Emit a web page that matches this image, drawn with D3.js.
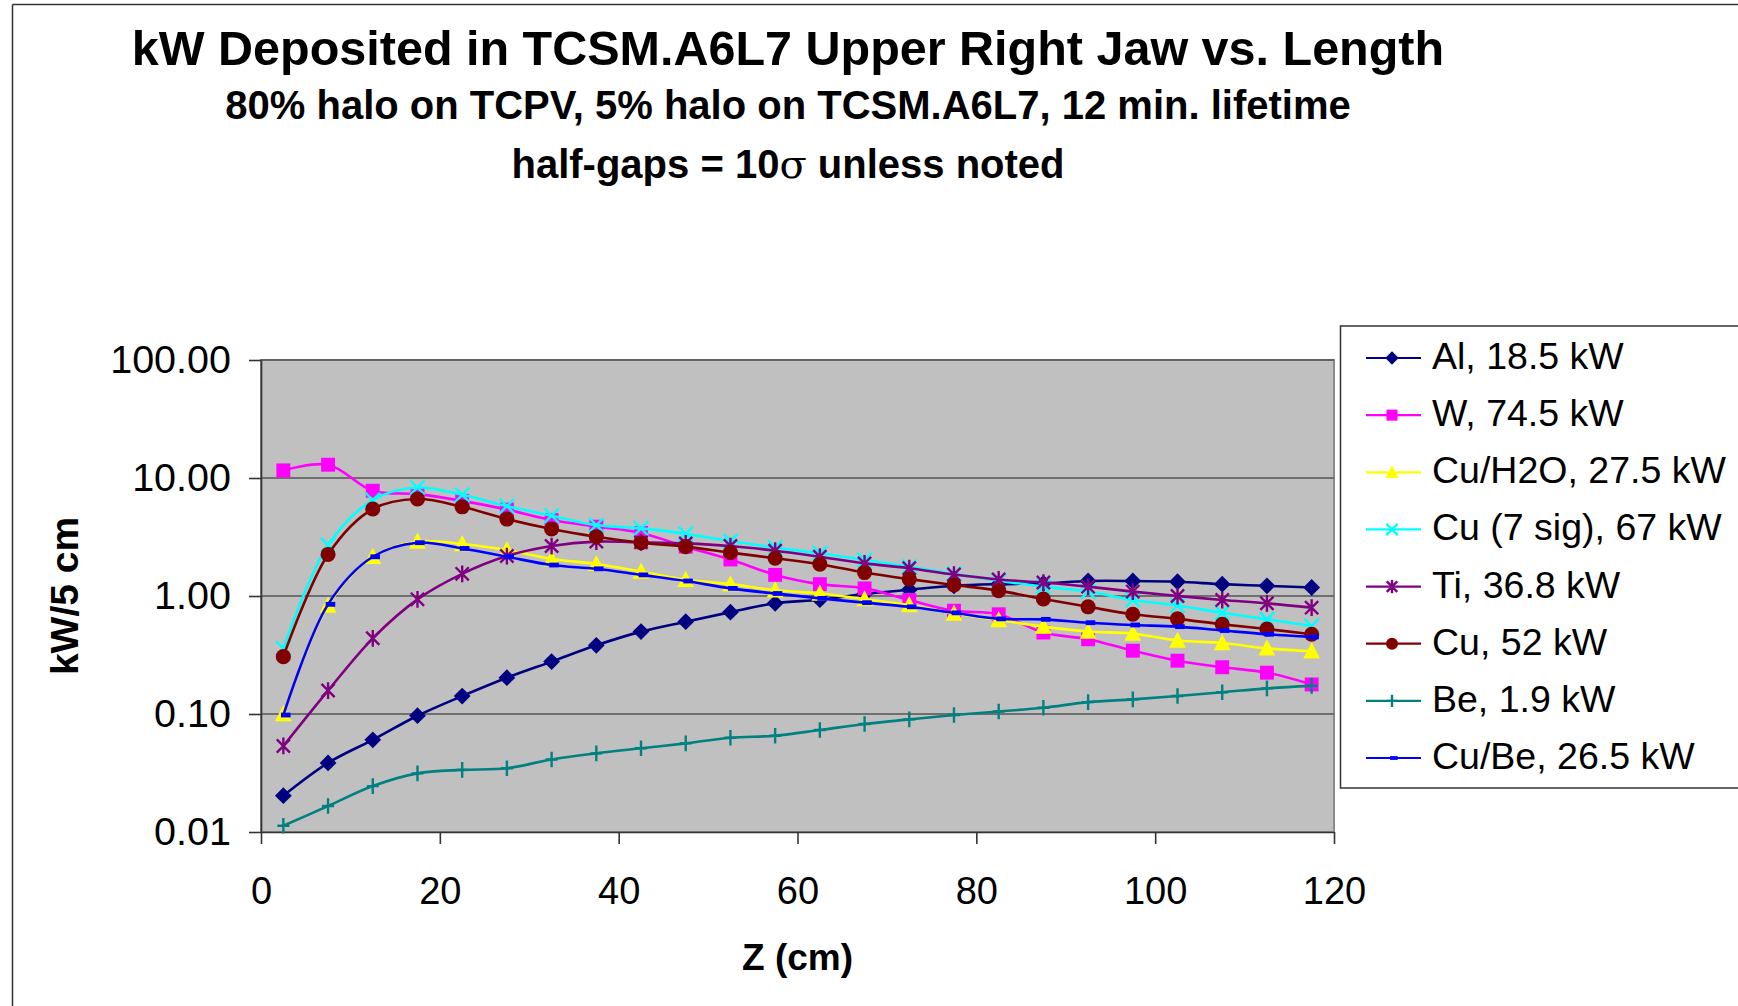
<!DOCTYPE html>
<html><head><meta charset="utf-8">
<script src="https://cdn.jsdelivr.net/npm/d3@7"></script>
<style>
body{margin:0;background:#fff}
svg{display:block}
text{font-family:"Liberation Sans",Arial,Helvetica,sans-serif}
</style>
</head><body>
<svg id="chart" width="1738" height="1006"></svg>
<script>
// ---------- data ----------
const zCm = [2.5,7.5,12.5,17.5,22.5,27.5,32.5,37.5,42.5,47.5,52.5,57.5,62.5,67.5,72.5,77.5,82.5,87.5,92.5,97.5,102.5,107.5,112.5,117.5];

const seriesNames = ["Al, 18.5 kW","W, 74.5 kW","Cu/H2O, 27.5 kW","Cu (7 sig), 67 kW","Ti, 36.8 kW","Cu, 52 kW","Be, 1.9 kW","Cu/Be, 26.5 kW"];
const seriesColors = ["#000080","#FF00FF","#FFFF00","#00FFFF","#800080","#800000","#008080","#0000FF"];
const seriesMarkers = ["diamond","square","triangle","x","asterisk","circle","plus","dash"];

const alValues    = [0.0203,0.0385,0.0604,0.0967,0.142,0.203,0.278,0.382,0.499,0.606,0.73,0.867,0.93,1.04,1.13,1.22,1.26,1.28,1.34,1.34,1.32,1.26,1.22,1.18];
const wValues     = [11.6,12.96,7.8,7.3,6.4,5.4,4.4,3.87,3.42,2.62,2.04,1.51,1.26,1.16,0.925,0.75,0.70,0.49,0.43,0.344,0.283,0.249,0.224,0.178];
const cuH2oValues = [0.100,0.83,2.15,2.89,2.76,2.45,2.06,1.87,1.61,1.37,1.26,1.12,1.05,0.94,0.84,0.71,0.626,0.55,0.50,0.48,0.42,0.40,0.36,0.34];
const cu7Values   = [0.36,2.70,6.5,8.3,7.2,5.78,4.79,3.99,3.74,3.36,2.92,2.57,2.30,2.02,1.77,1.54,1.35,1.20,1.09,0.925,0.83,0.72,0.634,0.557];
const tiValues    = [0.0536,0.158,0.438,0.937,1.54,2.18,2.65,2.89,2.85,2.79,2.65,2.42,2.15,1.89,1.72,1.52,1.38,1.30,1.20,1.09,1.00,0.925,0.867,0.797];
const cuValues    = [0.306,2.25,5.46,6.64,5.7,4.49,3.70,3.18,2.83,2.62,2.33,2.09,1.86,1.58,1.39,1.24,1.11,0.943,0.81,0.70,0.64,0.575,0.525,0.474];
const beValues    = [0.0113,0.0166,0.0245,0.0314,0.0336,0.0347,0.0412,0.0464,0.0512,0.0564,0.063,0.0655,0.0732,0.0823,0.090,0.098,0.105,0.113,0.126,0.133,0.142,0.153,0.165,0.173];
const cuBeValues  = [0.098,0.85,2.15,2.83,2.53,2.15,1.83,1.70,1.51,1.34,1.16,1.05,0.955,0.878,0.81,0.72,0.64,0.634,0.594,0.568,0.55,0.51,0.474,0.45];

const xTickValues = [0,20,40,60,80,100,120];
const yTickValues = [0.01,0.1,1,10,100];

const titleText = "kW Deposited in TCSM.A6L7 Upper Right Jaw vs. Length";
const subtitleText = "80% halo on TCPV, 5% halo on TCSM.A6L7, 12 min. lifetime";
const xTitle = "Z (cm)";
const yTitle = "kW/5 cm";

const allValues = [alValues,wValues,cuH2oValues,cu7Values,tiValues,cuValues,beValues,cuBeValues];

// ---------- layout ----------
const svg = d3.select("#chart");
const W = 1738, H = 1006;
const plot = {left:261, right:1334, top:360, bottom:832};

svg.append("rect").attr("width",W).attr("height",H).attr("fill","#fff");
// outer frame (top & left visible)
svg.append("line").attr("x1",12.5).attr("x2",W+5).attr("y1",4.5).attr("y2",4.5).attr("stroke","#333").attr("stroke-width",1.5);
svg.append("line").attr("x1",12.5).attr("x2",12.5).attr("y1",4.5).attr("y2",H+5).attr("stroke","#333").attr("stroke-width",1.5);

const x = d3.scaleLinear().domain([0,120]).range([plot.left,plot.right]);
const y = d3.scaleLog().domain([0.01,100]).range([plot.bottom,plot.top]);

// plot area
svg.append("rect").attr("x",plot.left).attr("y",plot.top)
  .attr("width",plot.right-plot.left).attr("height",plot.bottom-plot.top)
  .attr("fill","#C0C0C0").attr("stroke","#8a8a8a").attr("stroke-width",2);

// gridlines
svg.append("g").selectAll("line").data(yTickValues.filter(v=>v>0.01)).join("line")
  .attr("x1",plot.left).attr("x2",plot.right)
  .attr("y1",d=>y(d)).attr("y2",d=>y(d))
  .attr("stroke","#555").attr("stroke-width",1.6);

// axes
const yAxis = d3.axisLeft(y).tickValues(yTickValues).tickFormat(d3.format(".2f")).tickSizeInner(12).tickSizeOuter(0).tickPadding(18);
const gy = svg.append("g").attr("transform",`translate(${plot.left},0)`).call(yAxis);
gy.select(".domain").attr("stroke","#333").attr("stroke-width",1.6);
gy.selectAll(".tick line").attr("stroke","#333").attr("stroke-width",1.6);
gy.selectAll(".tick text").attr("font-size",39.5).attr("fill","#000").attr("font-family","'Liberation Sans',Arial,sans-serif");

const xAxis = d3.axisBottom(x).tickValues(xTickValues).tickFormat(d3.format("d")).tickSizeInner(12).tickSizeOuter(0).tickPadding(33);
const gx = svg.append("g").attr("transform",`translate(0,${plot.bottom})`).call(xAxis);
gx.select(".domain").attr("stroke","#333").attr("stroke-width",1.6);
gx.selectAll(".tick line").attr("stroke","#333").attr("stroke-width",1.6);
gx.selectAll(".tick text").attr("font-size",38).attr("fill","#000").attr("font-family","'Liberation Sans',Arial,sans-serif");

// titles
svg.append("text").attr("x",788).attr("y",65).attr("text-anchor","middle")
  .attr("font-size",48.5).attr("font-weight","bold").text(titleText);
svg.append("text").attr("x",788).attr("y",119).attr("text-anchor","middle")
  .attr("font-size",40).attr("font-weight","bold").text(subtitleText);
const st2 = svg.append("text").attr("x",788).attr("y",178).attr("text-anchor","middle")
  .attr("font-size",40).attr("font-weight","bold");
st2.append("tspan").text("half-gaps = 10");
st2.append("tspan").attr("font-family","'DejaVu Serif','Liberation Serif',serif").attr("font-weight","normal").text("σ");
st2.append("tspan").text(" unless noted");

svg.append("text").attr("x",(plot.left+plot.right)/2).attr("y",970).attr("text-anchor","middle")
  .attr("font-size",37).attr("font-weight","bold").text(xTitle);
svg.append("text").attr("transform",`translate(78,${(plot.top+plot.bottom)/2}) rotate(-90)`)
  .attr("text-anchor","middle").attr("font-size",39).attr("font-weight","bold").text(yTitle);

// ---------- markers ----------
function drawMarker(g, type, color, s){
  s = s || 1;
  switch(type){
    case "diamond": g.append("path").attr("d",`M0,${-7*s}L${7*s},0L0,${7*s}L${-7*s},0Z`).attr("fill",color); break;
    case "square": g.append("rect").attr("x",-5.8*s).attr("y",-5.8*s).attr("width",11.6*s).attr("height",11.6*s).attr("fill",color); break;
    case "triangle": g.append("path").attr("d",`M0,${-7.5*s}L${7*s},${6*s}L${-7*s},${6*s}Z`).attr("fill",color); break;
    case "circle": g.append("circle").attr("r",6.3*s).attr("fill",color); break;
    case "x": g.append("path").attr("d",`M${-6*s},${-6*s}L${6*s},${6*s}M${-6*s},${6*s}L${6*s},${-6*s}`).attr("stroke",color).attr("stroke-width",2.4).attr("fill","none"); break;
    case "asterisk": g.append("path").attr("d",`M${-5.5*s},${-5.5*s}L${5.5*s},${5.5*s}M${-5.5*s},${5.5*s}L${5.5*s},${-5.5*s}M0,${-7*s}L0,${7*s}`).attr("stroke",color).attr("stroke-width",2.4).attr("fill","none"); break;
    case "plus": g.append("path").attr("d",`M0,${-6.5*s}L0,${6.5*s}M${-5*s},0L${5*s},0`).attr("stroke",color).attr("stroke-width",2.4).attr("fill","none"); break;
    case "dash": g.append("rect").attr("x",-2*s).attr("y",-2*s).attr("width",8*s).attr("height",4*s).attr("fill",color); break;
  }
}

// ---------- series ----------
const line = d3.line().x(d=>x(d[0])).y(d=>y(d[1])).curve(d3.curveCatmullRom.alpha(0.5));
const seriesG = svg.append("g");
allValues.forEach((vals,i)=>{
  const pts = zCm.map((z,j)=>[z,vals[j]]);
  const g = seriesG.append("g");
  g.append("path").datum(pts).attr("d",line).attr("fill","none")
    .attr("stroke",seriesColors[i]).attr("stroke-width",2.6);
  g.selectAll("g.m").data(pts).join("g").attr("class","m")
    .attr("transform",d=>`translate(${x(d[0])},${y(d[1])})`)
    .each(function(){ drawMarker(d3.select(this), seriesMarkers[i], seriesColors[i], 1.2); });
});

// ---------- legend ----------
const lg = svg.append("g");
lg.append("rect").attr("x",1340.5).attr("y",326).attr("width",430).attr("height",462)
  .attr("fill","#fff").attr("stroke","#333").attr("stroke-width",1.5);
const rowY = d3.scaleLinear().domain([0,7]).range([358,758]);
seriesNames.forEach((name,i)=>{
  const cy = rowY(i);
  lg.append("line").attr("x1",1366).attr("x2",1421).attr("y1",cy).attr("y2",cy)
    .attr("stroke",seriesColors[i]).attr("stroke-width",2.2);
  const mg = lg.append("g").attr("transform",`translate(1392,${cy})`);
  drawMarker(mg, seriesMarkers[i], seriesColors[i], 0.95);
  lg.append("text").attr("x",1432).attr("y",cy+11).attr("font-size",37.5).attr("fill","#000").text(name);
});
</script>
</body></html>
